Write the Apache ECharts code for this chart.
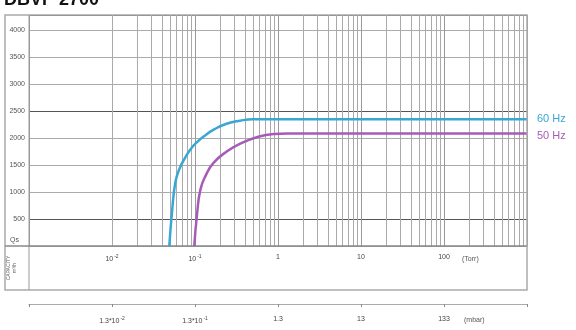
<!DOCTYPE html>
<html>
<head>
<meta charset="utf-8">
<script src="https://cdn.jsdelivr.net/npm/echarts@6/dist/echarts.min.js"></script>
<style>
  html, body { margin: 0; padding: 0; background: #fff; }
  #chart { width: 576px; height: 330px; }
</style>
</head>
<body>
<div id="chart"></div>
<script>
// pressure (Torr) and capacity (m3/h)
const torr60 = [0.049, 0.053, 0.058, 0.065, 0.075, 0.088, 0.105, 0.13, 0.17, 0.24, 0.35, 0.5, 1, 10, 100, 1000]
const cap60 = [0, 650, 1180, 1430, 1620, 1790, 1920, 2040, 2160, 2265, 2322, 2348, 2350, 2350, 2350, 2350]
const torr50 = [0.098, 0.106, 0.116, 0.134, 0.167, 0.246, 0.353, 0.567, 0.887, 1.3, 10, 100, 1000]
const cap50 = [0, 600, 1040, 1300, 1540, 1760, 1900, 2020, 2075, 2085, 2085, 2085, 2085]
const torrLabels = { '0.01': '10{s|-2}', '0.1': '10{s|-1}', '1': '1', '10': '10', '100': '100' }
const mbarLabels = { '0.01': '1.3*10{s|-2}', '0.1': '1.3*10{s|-1}', '1': '1.3', '10': '13', '100': '133' }

const font = 'Liberation Sans, Arial, sans-serif'
const blue = '#38a7d4'
const purple = '#a65cb6'

// minor log grid lines 2..9 per decade
const minorLines = []
for (let d = -3; d < 3; d++) {
  for (let k = 2; k < 10; k++) {
    minorLines.push({ xAxis: +(k * Math.pow(10, d)).toPrecision(3) })
  }
}

function pairs(xs, ys) {
  return xs.map((x, i) => [x, ys[i]])
}

const supRich = {
  s: { fontSize: 5, padding: [0, 0, 6, 1], color: '#444', fontFamily: font }
}

const chart = echarts.init(document.getElementById('chart'))
chart.setOption({
  animation: false,
  grid: { left: 29, right: 49, top: 15, bottom: 84 },
  xAxis: [
    {
      type: 'log',
      logBase: 10,
      min: 0.001,
      max: 1000,
      axisLine: { show: true, lineStyle: { color: '#888', width: 1.5 } },
      axisTick: { show: false },
      splitLine: { show: true, lineStyle: { color: '#999', width: 1 } },
      axisLabel: {
        margin: 8,
        fontSize: 7,
        color: '#444',
        fontFamily: font,
        showMinLabel: false,
        showMaxLabel: false,
        formatter: v => torrLabels[String(+v.toPrecision(3))] || '',
        rich: supRich
      }
    },
    {
      type: 'log',
      logBase: 10,
      min: 0.001,
      max: 1000,
      position: 'bottom',
      offset: 58,
      axisLine: { show: true, lineStyle: { color: '#aaa', width: 1 } },
      axisTick: { show: true, length: 3, lineStyle: { color: '#888' } },
      splitLine: { show: false },
      axisLabel: {
        margin: 12,
        fontSize: 7,
        color: '#444',
        fontFamily: font,
        formatter: v => mbarLabels[String(+v.toPrecision(3))] || '',
        rich: supRich
      }
    }
  ],
  yAxis: {
    type: 'value',
    min: 0,
    max: 4280,
    interval: 500,
    axisLine: { show: false },
    axisTick: { show: false },
    splitLine: {
      show: true,
      lineStyle: { color: ['#aaa', '#555', '#aaa', '#aaa'], width: 1 }
    },
    axisLabel: {
      margin: 4,
      fontSize: 7,
      color: '#555',
      fontFamily: font,
      showMaxLabel: false,
      formatter: v => (v === 0 ? '' : String(v))
    }
  },
  series: [
    {
      name: 'grid',
      type: 'line',
      data: [],
      silent: true,
      z: 0,
      markLine: {
        silent: true,
        symbol: 'none',
        z: 0,
        label: { show: false },
        lineStyle: { color: '#aaa', width: 1, type: 'solid' },
        data: minorLines
      }
    },
    {
      name: '60 Hz',
      type: 'line',
      data: pairs(torr60, cap60),
      smooth: 0.5,
      showSymbol: false,
      z: 5,
      lineStyle: { color: blue, width: 2.5 },
      itemStyle: { color: blue },
      endLabel: {
        show: true,
        formatter: '{a}',
        color: blue,
        fontSize: 11,
        fontFamily: font,
        distance: 10
      }
    },
    {
      name: '50 Hz',
      type: 'line',
      data: pairs(torr50, cap50),
      smooth: 0.5,
      showSymbol: false,
      z: 5,
      lineStyle: { color: purple, width: 2.5 },
      itemStyle: { color: purple },
      endLabel: {
        show: true,
        formatter: '{a}',
        color: purple,
        fontSize: 11,
        fontFamily: font,
        distance: 10,
        offset: [0, 3]
      }
    }
  ],
  graphic: [
    {
      type: 'text',
      left: 4,
      top: -9,
      style: { text: 'DBVP 2700', font: 'bold 18px ' + font, fill: '#111' }
    },
    {
      type: 'rect',
      shape: { x: 5, y: 15, width: 522, height: 275 },
      style: { fill: 'none', stroke: '#aaa', lineWidth: 1.5 },
      z: 10
    },
    {
      type: 'line',
      shape: { x1: 29, y1: 15, x2: 29, y2: 290 },
      style: { stroke: '#999', lineWidth: 1 },
      z: 10
    },
    {
      type: 'line',
      shape: { x1: 5, y1: 246, x2: 29, y2: 246 },
      style: { stroke: '#888', lineWidth: 1.5 },
      z: 10
    },
    {
      type: 'text',
      x: 10,
      y: 240,
      style: { text: 'Qs', font: '7px ' + font, fill: '#555', verticalAlign: 'middle' }
    },
    {
      type: 'text',
      x: 462,
      y: 259,
      style: { text: '(Torr)', font: '7px ' + font, fill: '#555', verticalAlign: 'middle' }
    },
    {
      type: 'text',
      x: 464,
      y: 320,
      style: { text: '(mbar)', font: '7px ' + font, fill: '#555', verticalAlign: 'middle' }
    },
    {
      type: 'text',
      x: 12,
      y: 268,
      rotation: Math.PI / 2,
      style: {
        text: 'CAPACITY\nm³/h',
        font: '5px ' + font,
        fill: '#666',
        align: 'center',
        verticalAlign: 'middle',
        lineHeight: 6
      }
    }
  ]
})
</script>
</body>
</html>
